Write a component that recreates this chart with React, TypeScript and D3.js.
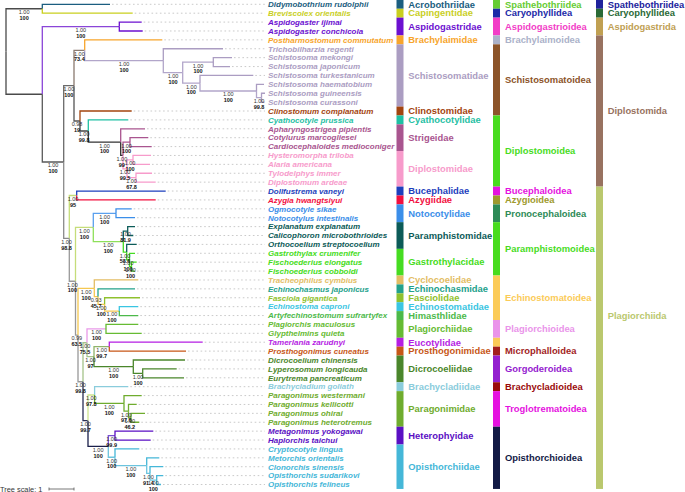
import React from "react";
import * as d3 from "d3";

// ---------------- DATA ----------------
// Tree (Newick): internal labels = name|posterior|bootstrap, lengths in substitutions/site
const treeNewick = [
  "((Didymobothrium_rudolphii:2.708,Breviscolex_orientalis:3.616)OG|1.00|100:1.452,",
  "((Aspidogaster_ijimai:0.896,Aspidogaster_conchicola:0.936)ASP|1.00|100:3.08,",
  "(((Postharmostomum_commutatum:3.104,(Trichobilharzia_regenti:2.388,",
  "((Schistosoma_mekongi:0.748,Schistosoma_japonicum:0.668)ASIA|1.00|100:1.224,",
  "(Schistosoma_turkestanicum:2.132,(Schistosoma_haematobium:0.3,",
  "(Schistosoma_guineensis:0.14,Schistosoma_curassoni:0.12)GC|1.00|99.8:0.2)HAEM|1.00|100:2.26)AFR|1.00|100:0.692",
  ")SCH2|1.00|100:0.776)SCH|1.00|100:3.144)BS|1.00|73.4:0.428,",
  "(Clinostomum_complanatum:2.068,(Cyathocotyle_prussica:1.6,(Apharyngostrigea_pipientis:0.972,",
  "((Cotylurus_marcogliesei:0.732,Cardiocephaloides_medioconiger:0.868)CC|1.00|100:0.28,",
  "((Hysteromorpha_triloba:0.72,Alaria_americana:0.68)HA|1.00|100:0.24,",
  "(Tylodelphys_immer:0.64,Diplostomum_ardeae:0.788)TD|1.00|67.8:0.36)D|1.00|99.5:0.16",
  ")S2|1.00|99:0.092)S1|1.00|100:1.296)CS|1.00|99.8:0.332)CLS|0.98|19:0.24)DIPLO|1.00|100:0.412,",
  "((Dollfustrema_vaneyi:3.56,Azygia_hwangtsiyui:3.16)BA|1.00|95:0.296,",
  "(((Ogmocotyle_sikae:0.628,Notocotylus_intestinalis:0.76)NOTO|1.00|100:0.908,",
  "((Explanatum_explanatum:0.292,Calicophoron_microbothrioides:0.224)EC|1.00|81.9:0.176,",
  "(Orthocoelium_streptocoelium:0.4,(Gastrothylax_crumenifer:0.22,",
  "(Fischoederius_elongatus:0.208,Fischoederius_cobboldi:0.14)FF|1.00|100:0.08)GAS|1.00|100:0.112",
  ")OG2|1.00|58.6:0.136)PARA|1.00|100:1.2)PP|1.00|100:0.712,",
  "((Tracheophilus_cymbius:1.76,(Echinochasmus_japonicus:1.48,(Fasciola_gigantica:1.416,",
  "(Echinostoma_caproni:0.76,Artyfechinostomum_sufrartyfex:0.76)E4|1.00|100:0.588)E3|1.00|100:0.264",
  ")E2|0.93|45.7:0.148)ECH|1.00|100:0.652,",
  "(((Plagiorchis_maculosus:1.292,Glypthelmins_quieta:1.428)PLG|1.00|100:0.76,",
  "((Tamerlania_zarudnyi:3.736,Prosthogonimus_cuneatus:3.068)MIC|1.00|99.7:0.612,",
  "(Dicrocoelium_chinensis:2.068,(Lyperosomum_longicauda:1.36,Eurytrema_pancreaticum:1.652)LE|1.00|100:0.376",
  ")DIC|1.00|100:1.572)MG|1.00|97:0.28)U|1.00|75.5:0.16,",
  "((Brachycladium_goliath:1.348,(Paragonimus_westermani:0.708,(Paragonimus_kellicotti:0.328,",
  "(Paragonimus_ohirai:0.56,Paragonimus_heterotremus:0.332)P3|1.00|46.2:0.1)P2|1.00|97.6:0.18",
  ")PAR|1.00|100:1.176)BT|1.00|97.8:0.264,",
  "((Metagonimus_yokogawai:1.532,Haplorchis_taichui:1.428)HET|1.00|99.9:0.268,",
  "(Cryptocotyle_lingua:0.972,(Metorchis_orientalis:0.504,(Clonorchis_sinensis:0.532,",
  "(Opisthorchis_sudarikovi:0.264,Opisthorchis_felineus:0.172)O4|1.00|100:0.268)O3|1.00|91.4:0.132",
  ")O2|1.00|100:1.268)OPD|1.00|100:0.268)OPI|1.00|100:0.812)L|1.00|99.7:0.2",
  ")XIP|1.00|99.8:0.2)EX|0.99|63.5:0.1)R|1.00|100:0.248)PLAG|1.00|98.8:0.224",
  ")DIG|1.00|100:0.856)IN:1.452)ROOT;",
].join("");

const families = [
  "Acrobothriidae", "Capingentidae", "Aspidogastridae", "Brachylaimidae", "Schistosomatidae",
  "Clinostomidae", "Cyathocotylidae", "Strigeidae", "Diplostomidae", "Bucephalidae", "Azygiidae",
  "Notocotylidae", "Paramphistomidae", "Gastrothylacidae", "Cyclocoelidae", "Echinochasmidae",
  "Fasciolidae", "Echinostomatidae", "Himasthlidae", "Plagiorchiidae", "Eucotylidae",
  "Prosthogonimidae", "Dicrocoeliidae", "Brachycladiidae", "Paragonimidae", "Heterophyidae",
  "Opisthorchiidae",
];
const familySizes = [1, 1, 2, 1, 7, 1, 1, 3, 4, 1, 1, 2, 3, 3, 1, 1, 1, 1, 1, 2, 1, 1, 3, 1, 4, 2, 5];

const superfamilies = [
  "Spathebothriidea", "Caryophyllidea", "Aspidogastrioidea", "Brachylaimoidea", "Schistosomatoidea",
  "Diplostomoidea", "Bucephaloidea", "Azygioidea", "Pronocephaloidea", "Paramphistomoidea",
  "Echinostomatoidea", "Plagiorchioidea", "", "Microphalloidea", "Gorgoderoidea",
  "Brachycladioidea", "Troglotrematoidea", "Opisthorchioidea",
];
const superfamilySizes = [1, 1, 2, 1, 8, 8, 1, 1, 2, 6, 5, 2, 1, 1, 3, 1, 4, 7];

const orders = ["Spathebothriidea", "Caryophyllidea", "Aspidogastrida", "Diplostomida", "Plagiorchiida"];
const orderSizes = [1, 1, 2, 17, 34];

const treeScaleUnits = 1;

// ---------------- STYLE ----------------
const familyColor: Record<string, string> = {
  Acrobothriidae: "#1b5e80", Capingentidae: "#c9cf1f", Aspidogastridae: "#6c10d0",
  Brachylaimidae: "#f7a52c", Schistosomatidae: "#ab9dc2", Clinostomidae: "#a3440e",
  Cyathocotylidae: "#1fc0a3", Strigeidae: "#a9558f", Diplostomidae: "#f79bcb",
  Bucephalidae: "#1d3fbd", Azygiidae: "#f2103f", Notocotylidae: "#3b8ee9",
  Paramphistomidae: "#0c5b58", Gastrothylacidae: "#46dc21", Cyclocoelidae: "#e3bd64",
  Echinochasmidae: "#23a18b", Fasciolidae: "#8fc12e", Echinostomatidae: "#3ac5e2",
  Himasthlidae: "#4cb94a", Plagiorchiidae: "#66bb33", Eucotylidae: "#b51ee3",
  Prosthogonimidae: "#c75717", Dicrocoeliidae: "#4a862b", Brachycladiidae: "#8accdc",
  Paragonimidae: "#6fac2e", Heterophyidae: "#5a0fc3", Opisthorchiidae: "#45b7d8",
};
const superColor: Record<string, string> = {
  Spathebothriidea: "#66cc33", Caryophyllidea: "#1c2aa8", Aspidogastrioidea: "#f23dc7",
  Brachylaimoidea: "#abb2c9", Schistosomatoidea: "#8c5429", Diplostomoidea: "#48dc1e",
  Bucephaloidea: "#e511e0", Azygioidea: "#9e9a2e", Pronocephaloidea: "#2e8b57",
  Paramphistomoidea: "#48dc1e", Echinostomatoidea: "#fbcb58", Plagiorchioidea: "#ea94ea",
  "": "#fbcb58", Microphalloidea: "#a21e1e", Gorgoderoidea: "#9420cf",
  Brachycladioidea: "#9a0a0a", Troglotrematoidea: "#e511e0", Opisthorchioidea: "#121a45",
};
const orderColor: Record<string, string> = {
  Spathebothriidea: "#20239c", Caryophyllidea: "#2a6a36", Aspidogastrida: "#c0a052",
  Diplostomida: "#987260", Plagiorchiida: "#bac86e",
};
const nodeColor: Record<string, string> = {
  OG: "#4a4a4a", IN: "#4a4a4a", ASP: "#8a45d8", DIG: "#5a5a5a", DIPLO: "#6a6a6a", BS: "#8a7a70",
  SCH: "#b2a6ca", SCH2: "#b2a6ca", ASIA: "#b2a6ca", AFR: "#b2a6ca", HAEM: "#b2a6ca", GC: "#b2a6ca",
  CLS: "#555", CS: "#444", S1: "#333", S2: "#333", CC: "#a9558f", D: "#f79bcb", HA: "#f79bcb", TD: "#f79bcb",
  PLAG: "#8a8a8a", BA: "#c5dd7a", R: "#999", PP: "#c5dd7a", NOTO: "#5aa0ee", PARA: "#8ee05a",
  EC: "#0c5b58", OG2: "#46dc21", GAS: "#46dc21", FF: "#46dc21",
  EX: "#999", ECH: "#f5c851", E2: "#f5c851", E3: "#f5c851", E4: "#f5c851",
  XIP: "#999", U: "#a5c48a", PLG: "#e99ae9", MG: "#a5c48a", MIC: "#8fb46a", DIC: "#4a862b", LE: "#4a862b",
  L: "#2a2e55", BT: "#cfe58f", PAR: "#6fac2e", P2: "#6fac2e", P3: "#6fac2e",
  OPI: "#1a1f4a", HET: "#7a50d0", OPD: "#6cc4de", O2: "#6cc4de", O3: "#6cc4de", O4: "#6cc4de",
};

// ---------------- PARSER ----------------
type TNode = { name: string; len: number; children: TNode[]; sup?: string; boot?: string };
function parseNewick(s: string): TNode {
  let i = 0;
  function node(): TNode {
    const n: TNode = { name: "", len: 0, children: [] };
    if (s[i] === "(") {
      i++;
      n.children.push(node());
      while (s[i] === ",") { i++; n.children.push(node()); }
      i++;
    }
    let lab = "";
    while (i < s.length && !":,);".includes(s[i])) lab += s[i++];
    if (s[i] === ":") {
      i++;
      let num = "";
      while (i < s.length && !",);".includes(s[i])) num += s[i++];
      n.len = +num;
    }
    const parts = lab.split("|");
    n.name = parts[0].replace(/_/g, " ");
    if (parts.length > 2) { n.sup = parts[1]; n.boot = parts[2]; }
    return n;
  }
  return node();
}

function expand(names: string[], sizes: number[]) {
  const out: { name: string; start: number; end: number }[] = [];
  let k = 0;
  names.forEach((nm, i) => { out.push({ name: nm, start: k, end: k + sizes[i] - 1 }); k += sizes[i]; });
  return out;
}

export default function App() {
  const W = 685, H = 492;
  const root = d3.hierarchy(parseNewick(treeNewick), (d: TNode) => (d.children.length ? d.children : null));
  const leaves = root.leaves();
  const n = leaves.length;

  const x = d3.scaleLinear().domain([0, 1]).range([6, 31]);
  const y = d3.scaleLinear().domain([0, n - 1]).range([4.3, 484.5]);
  const step = y(1) - y(0);

  const famRanges = expand(families, familySizes);
  const supRanges = expand(superfamilies, superfamilySizes);
  const ordRanges = expand(orders, orderSizes);
  const leafFamily: string[] = [];
  famRanges.forEach((r) => { for (let k = r.start; k <= r.end; k++) leafFamily[k] = r.name; });

  const pos = new Map<any, { x: number; y: number; depth: number }>();
  root.eachBefore((d: any) => {
    const depth = d.parent ? pos.get(d.parent)!.depth + d.data.len : 0;
    pos.set(d, { x: x(depth), y: 0, depth });
  });
  leaves.forEach((l: any, i: number) => { pos.get(l)!.y = y(i); });
  root.eachAfter((d: any) => {
    if (d.children) {
      const c = d.children;
      pos.get(d)!.y = (pos.get(c[0])!.y + pos.get(c[c.length - 1])!.y) / 2;
    }
  });
  const leafIndex = new Map<any, number>();
  leaves.forEach((l: any, i: number) => leafIndex.set(l, i));
  const colorOf = (d: any) =>
    d.children ? nodeColor[d.data.name] || "#555" : familyColor[leafFamily[leafIndex.get(d)!]];

  const nodes = root.descendants().filter((d: any) => d.parent);
  const labelX = 268;
  const dotEnd = 265;

  const strip = (ranges: { name: string; start: number; end: number }[], cmap: Record<string, string>, sx: number, lx: number, key: string, nudge: Record<string, number> = {}) =>
    ranges.map((r) => {
      const y0 = y(r.start) - step / 2;
      const y1 = y(r.end) + step / 2;
      return (
        <g key={key + r.start}>
          <rect x={sx} y={Math.max(0, y0)} width={7} height={y1 - Math.max(0, y0)} fill={cmap[r.name]} />
          {r.name && (
            <text x={lx} y={(y0 + y1) / 2 + (nudge[r.name] || 0)} dy="0.35em" fontSize={9.4} fontWeight="bold" fill={cmap[r.name]}>
              {r.name}
            </text>
          )}
        </g>
      );
    });

  return (
    <svg width={W} height={H} style={{ position: "absolute", left: 0, top: 0, fontFamily: "'Liberation Sans', Arial, sans-serif" }}>
      <rect width={W} height={H} fill="#fff" />
      {/* leader dots */}
      {leaves.map((l: any, i: number) => {
        const p = pos.get(l)!;
        return p.x < dotEnd - 2 ? (
          <line key={"dot" + i} x1={p.x + 2} x2={dotEnd} y1={p.y} y2={p.y} stroke="#bdbdbd" strokeWidth={0.8} strokeDasharray="1.6,2.6" />
        ) : null;
      })}
      {/* branches */}
      {nodes.map((d: any, i: number) => {
        const p = pos.get(d)!;
        const pp = pos.get(d.parent)!;
        return (
          <path key={"br" + i} d={`M${pp.x},${pp.y}V${p.y}H${p.x}`} fill="none" stroke={colorOf(d)} strokeWidth={1.3} />
        );
      })}
      {/* support values */}
      {nodes.filter((d: any) => d.data.sup).map((d: any, i: number) => {
        const p = pos.get(d)!;
        const pp = pos.get(d.parent)!;
        const cx = (p.x + pp.x) / 2;
        return (
          <g key={"sup" + i} fontSize={5.5} textAnchor="middle">
            <text x={cx} y={p.y + 5.4} fill="#333">{d.data.sup}</text>
            <text x={cx} y={p.y + 11.2} fill="#111" fontWeight="bold">{d.data.boot}</text>
          </g>
        );
      })}
      {/* leaf labels */}
      {leaves.map((l: any, i: number) => (
        <text key={"lab" + i} x={labelX} y={pos.get(l)!.y} dy="0.35em" fontSize={8} fontWeight="bold" fontStyle="italic" fill={familyColor[leafFamily[i]]}>
          {l.data.name}
        </text>
      ))}
      {strip(famRanges, familyColor, 396.5, 408.3, "f")}
      {strip(supRanges, superColor, 493, 505, "s")}
      {strip(ordRanges, orderColor, 596, 607.7, "o", { Plagiorchiida: -22 })}
      {/* tree scale */}
      <g>
        <text x={0} y={491.5} fontSize={7.4} fill="#333">Tree scale: {treeScaleUnits}</text>
        <line x1={x(0) + 43} x2={x(treeScaleUnits) + 43} y1={489} y2={489} stroke="#555" strokeWidth={0.8} />
        <line x1={x(0) + 43} x2={x(0) + 43} y1={487.5} y2={490.5} stroke="#555" strokeWidth={0.8} />
        <line x1={x(treeScaleUnits) + 43} x2={x(treeScaleUnits) + 43} y1={487.5} y2={490.5} stroke="#555" strokeWidth={0.8} />
      </g>
    </svg>
  );
}
